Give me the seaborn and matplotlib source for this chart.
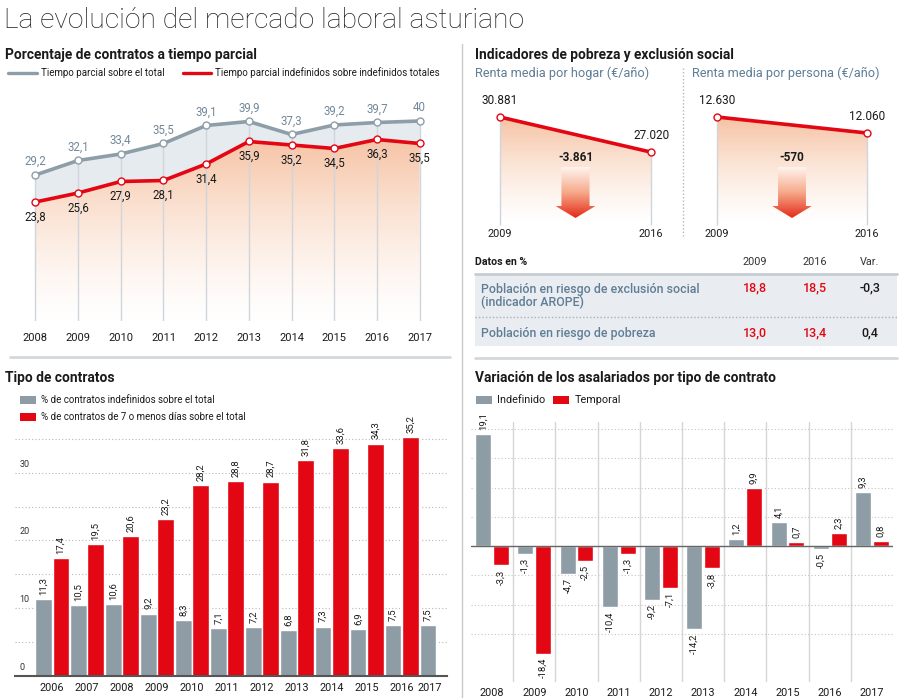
import numpy as np
import pandas as pd
import matplotlib
matplotlib.use('Agg')
import matplotlib.pyplot as plt
import seaborn as sns
from matplotlib.lines import Line2D
from matplotlib.patches import Rectangle, Polygon
from matplotlib.colors import LinearSegmentedColormap
from matplotlib import transforms

sns.set_theme(style='white')
plt.rcParams['font.family'] = ['Roboto', 'DejaVu Sans']

# ---- data ----
years_parcial = [2008, 2009, 2010, 2011, 2012, 2013, 2014, 2015, 2016, 2017]
parcial_total = [29.2, 32.1, 33.4, 35.5, 39.1, 39.9, 37.3, 39.2, 39.7, 40]
parcial_indef = [23.8, 25.6, 27.9, 28.1, 31.4, 35.9, 35.2, 34.5, 36.3, 35.5]

renta_years = ['2009', '2016']
renta_hogar = [30881, 27020]
renta_persona = [12630, 12060]

tabla_filas = ['Población en riesgo de exclusión social\n(indicador AROPE)',
               'Población en riesgo de pobreza']
tabla_2009 = [18.8, 13.0]
tabla_2016 = [18.5, 13.4]

years_tipo = ['2006', '2007', '2008', '2009', '2010', '2011', '2012',
              '2013', '2014', '2015', '2016', '2017']
pct_indefinidos = [11.3, 10.5, 10.6, 9.2, 8.3, 7.1, 7.2, 6.8, 7.3, 6.9, 7.5, 7.5]
pct_7dias = [17.4, 19.5, 20.6, 23.2, 28.2, 28.8, 28.7, 31.8, 33.6, 34.3, 35.2, np.nan]

years_var = ['2008', '2009', '2010', '2011', '2012', '2013', '2014', '2015', '2016', '2017']
var_indefinido = [19.1, -1.3, -4.7, -10.4, -9.2, -14.2, 1.2, 4.1, -0.5, 9.3]
var_temporal = [-3.3, -18.4, -2.5, -1.3, -7.1, -3.8, 9.9, 0.7, 2.3, 0.8]

# ---- style ----
RED = '#e30613'
GRAY_BAR = '#8e9ca6'
GRAY_LINE = '#8e9ea9'
GRAY_LABEL = '#73889a'
BLUE_TEXT = '#5f7d95'
DARK = '#1a1a1a'
TITLE_FS = 9.9
W, H = 900, 699

fig = plt.figure(figsize=(9, 6.99), dpi=100)
fig.patch.set_facecolor('white')


def rect(x0, y0, x1, y1):
    return [x0 / W, 1 - y1 / H, (x1 - x0) / W, (y1 - y0) / H]


def ftext(x, y, s, **kw):
    kw.setdefault('va', 'center')
    fig.text(x / W, 1 - y / H, s, **kw)


def fline(x0, y0, x1, y1, **kw):
    fig.add_artist(Line2D([x0 / W, x1 / W], [1 - y0 / H, 1 - y1 / H],
                          transform=fig.transFigure, **kw))


def frect(x0, y0, x1, y1, **kw):
    fig.add_artist(Rectangle((x0 / W, 1 - y1 / H), (x1 - x0) / W, (y1 - y0) / H,
                             transform=fig.transFigure, **kw))


def coma(v):
    if v == 40:
        return '40'
    return f'{v:.1f}'.replace('.', ',')


def miles(v):
    return f'{v:,}'.replace(',', '.')


peach = LinearSegmentedColormap.from_list('peach', ['#ffffff', '#fbe3d4', '#f6c2a3'])
arrow_cm = LinearSegmentedColormap.from_list('arr', ['#fff5ef', '#f6a88a', '#e42a17'])
grad = np.linspace(0, 1, 256).reshape(-1, 1) ** 1.3

# ---- main title & separators ----
ftext(4, 21, 'La evolución del mercado laboral asturiano', fontsize=20.3,
      fontweight='light', color='#222222')
fline(462, 44, 462, 697, color='#c8c8c8', lw=1)
fline(10, 357, 450, 357, color='#d4d8dc', lw=2)
fline(475, 358, 897, 358, color='#d4d8dc', lw=2)

# ======== Panel 1: tiempo parcial ========
ftext(5, 55, 'Porcentaje de contratos a tiempo parcial', fontsize=TITLE_FS,
      fontweight='bold', color=DARK)
fline(8, 73, 37, 73, color=GRAY_LINE, lw=2.4)
ftext(41, 73, 'Tiempo parcial sobre el total', fontsize=7, color=DARK)
fline(183, 73, 211, 73, color=RED, lw=2.4)
ftext(215, 73, 'Tiempo parcial indefinidos sobre indefinidos totales', fontsize=7, color=DARK)

ax1 = fig.add_axes(rect(14, 96, 441, 321))
ax1.fill_between(years_parcial, parcial_indef, parcial_total, color='#e6ebf0', lw=0, zorder=1)
under = ax1.fill_between(years_parcial, 0, parcial_indef, color='none', lw=0)
im = ax1.imshow(grad, extent=[2008, 2017, 0, 37], origin='lower', aspect='auto',
                cmap=peach, zorder=1)
im.set_clip_path(under.get_paths()[0], transform=ax1.transData)
ax1.vlines(years_parcial, 0, parcial_total, color='#cfd5da', lw=1, zorder=1.5)
sns.lineplot(x=years_parcial, y=parcial_total, color=GRAY_LINE, lw=2.6, marker='o',
             markersize=5, markerfacecolor='white', markeredgecolor=GRAY_LINE,
             markeredgewidth=1, ax=ax1, zorder=3)
sns.lineplot(x=years_parcial, y=parcial_indef, color=RED, lw=2.6, marker='o',
             markersize=5, markerfacecolor='white', markeredgecolor=RED,
             markeredgewidth=1, ax=ax1, zorder=3)
for l in ax1.lines:
    l.set_clip_on(False)
for x, a, b in zip(years_parcial, parcial_total, parcial_indef):
    ax1.annotate(coma(a), (x, a), xytext=(0, 5), textcoords='offset points',
                 ha='center', va='bottom', fontsize=8.3, color=GRAY_LABEL)
    ax1.annotate(coma(b), (x, b), xytext=(0, -6), textcoords='offset points',
                 ha='center', va='top', fontsize=8.3, color=DARK)
ax1.set_xlim(2007.5, 2017.5)
ax1.set_ylim(0, 45)
ax1.set_xticks(years_parcial)
ax1.set_xticklabels([str(y) for y in years_parcial])
ax1.tick_params(axis='x', length=0, pad=9, labelsize=8, labelcolor=DARK)
ax1.set_yticks([])
ax1.set_xlabel('')
ax1.set_ylabel('')
for s in ax1.spines.values():
    s.set_visible(False)
ax1.patch.set_alpha(0)

# ======== Panel 2: pobreza ========
ftext(475, 55, 'Indicadores de pobreza y exclusión social', fontsize=TITLE_FS,
      fontweight='bold', color=DARK)
ftext(475, 73, 'Renta media por hogar (€/año)', fontsize=9.2, color=BLUE_TEXT)
ftext(692, 73, 'Renta media por persona (€/año)', fontsize=9.2, color=BLUE_TEXT)
fline(683, 68, 683, 238, color='#b8b8b8', lw=1, ls=(0, (1, 1.5)))


def mini(box, vals, ylim):
    ax = fig.add_axes(rect(*box))
    xs = [0, 1]
    poly = ax.fill_between(xs, ylim[0], vals, color='none', lw=0)
    img = ax.imshow(grad, extent=[0, 1, ylim[0], max(vals)], origin='lower',
                    aspect='auto', cmap=peach, zorder=1)
    img.set_clip_path(poly.get_paths()[0], transform=ax.transData)
    ax.vlines(xs, ylim[0], vals, color='#cfd5da', lw=1, zorder=1.5, clip_on=False)
    sns.lineplot(x=xs, y=vals, color=RED, lw=2.6, marker='o', markersize=5,
                 markerfacecolor='white', markeredgecolor=RED, markeredgewidth=1,
                 ax=ax, zorder=3)
    for l in ax.lines:
        l.set_clip_on(False)
    for x, v in zip(xs, vals):
        ax.annotate(miles(v), (x, v), xytext=(0, 7), textcoords='offset points',
                    ha='center', va='bottom', fontsize=8.5, color=DARK)
        ax.text(x, -0.03, renta_years[x], transform=ax.get_xaxis_transform(),
                ha='center', va='top', fontsize=7.8, color=DARK)
    ax.text(0.5, 0.523, miles(vals[1] - vals[0]), transform=ax.transAxes,
            ha='center', va='center', fontsize=8.5, fontweight='bold', color=DARK)
    # flecha con degradado
    cx, sw, hw = 0.5, 0.093, 0.132
    top, base, tip = 0.446, 0.146, 0.054
    verts = [(cx - sw, top), (cx + sw, top), (cx + sw, base), (cx + hw, base),
             (cx, tip), (cx - hw, base), (cx - sw, base)]
    arrow = Polygon(verts, closed=True, transform=ax.transAxes, fc='none', ec='none')
    ax.add_patch(arrow)
    aim = ax.imshow(np.linspace(0, 1, 256).reshape(-1, 1), cmap=arrow_cm,
                    extent=[cx - hw, cx + hw, tip, top], transform=ax.transAxes,
                    aspect='auto', origin='upper', zorder=4)
    aim.set_clip_path(arrow)
    ax.set_xlim(0, 1)
    ax.set_ylim(*ylim)
    ax.axis('off')
    return ax


mini((500, 95, 651, 225), renta_hogar, (19000, 33308))
mini((717, 95, 867, 225), renta_persona, (8782, 13414))

# tabla
ftext(475, 262, 'Datos en %', fontsize=7.6, fontweight='bold', color=DARK)
for xc, s in zip([755, 815, 870], ['2009', '2016', 'Var.']):
    ftext(xc, 262, s, fontsize=7.8, color='#333333', ha='center')
frect(475, 274, 897, 346, color='#e9edf1', lw=0)
fline(475, 274, 897, 274, color='#c5ccd2', lw=2)
fline(475, 317, 897, 317, color='#a9b1b8', lw=1, ls=(0, (1, 1.5)))
row_y = [296, 333]
for i, name in enumerate(tabla_filas):
    ftext(481, row_y[i], name, fontsize=8.9, fontweight='medium', color=BLUE_TEXT,
          linespacing=1.05)
    vy = 288 if i == 0 else 333
    ftext(755, vy, coma(tabla_2009[i]), fontsize=9, color=RED, ha='center', fontweight='medium')
    ftext(815, vy, coma(tabla_2016[i]), fontsize=9, color=RED, ha='center', fontweight='medium')
    ftext(870, vy, coma(round(tabla_2016[i] - tabla_2009[i], 1)), fontsize=9,
          color=DARK, ha='center', fontweight='medium')

# ======== Panel 3: tipo de contratos ========
ftext(5, 378, 'Tipo de contratos', fontsize=TITLE_FS, fontweight='bold', color=DARK)
lab_indef = '% de contratos indefinidos sobre el total'
lab_7 = '% de contratos de 7 o menos días sobre el total'
frect(20, 396, 36, 404, color=GRAY_BAR, lw=0)
ftext(41, 400, lab_indef, fontsize=7, color=DARK)
frect(20, 413, 36, 421, color=RED, lw=0)
ftext(41, 417, lab_7, fontsize=7, color=DARK)

df3 = pd.DataFrame({
    'year': years_tipo * 2,
    'valor': pct_indefinidos + pct_7dias,
    'serie': [lab_indef] * len(years_tipo) + [lab_7] * len(years_tipo),
})
ax3 = fig.add_axes(rect(15, 430, 447, 676))
sns.barplot(data=df3, x='year', y='valor', hue='serie', palette=[GRAY_BAR, RED],
            width=0.98, gap=0.05, saturation=1, errorbar=None, legend=False,
            ax=ax3, zorder=2)
for c in ax3.containers:
    ax3.bar_label(c, labels=[coma(p.get_height()) for p in c], rotation=90,
                  padding=3, fontsize=6.8, color=DARK)
ax3.set_xlim(-1.06, 11.29)
ax3.set_ylim(0, 36.3)
ax3.set_yticks(np.arange(5, 40, 5))
ax3.set_yticklabels([])
ax3.yaxis.grid(True, color='#b9b9b9', ls=(0, (1, 2)), lw=0.8)
ax3.xaxis.grid(False)
for v in [0, 10, 20, 30]:
    ax3.text(0.01, v + 0.6, str(v), transform=ax3.get_yaxis_transform(),
             ha='left', va='bottom', fontsize=6.5, color='#333333')
ax3.set_xticks(np.arange(len(years_tipo)), years_tipo)
ax3.set_xticks(np.arange(len(years_tipo) - 1) + 0.5, minor=True)
ax3.tick_params(axis='x', which='major', length=0, pad=5, labelsize=7.8, labelcolor=DARK)
ax3.tick_params(axis='x', which='minor', length=5, width=0.8, color='#888888', direction='out')
ax3.tick_params(axis='y', length=0)
last = ax3.get_xticklabels()[-1]
last.set_transform(last.get_transform() + transforms.ScaledTranslation(-0.07, 0, fig.dpi_scale_trans))
ax3.set_xlabel('')
ax3.set_ylabel('')
for k, s in ax3.spines.items():
    s.set_visible(k == 'bottom')
ax3.spines['bottom'].set_color('#555555')
ax3.spines['bottom'].set_linewidth(1.5)
ax3.patch.set_alpha(0)

# ======== Panel 4: variación asalariados ========
ftext(475, 378, 'Variación de los asalariados por tipo de contrato', fontsize=TITLE_FS,
      fontweight='bold', color=DARK)
frect(476, 396, 492, 404, color=GRAY_BAR, lw=0)
ftext(497, 400, 'Indefinido', fontsize=7.8, color=DARK)
frect(553, 396, 569, 404, color=RED, lw=0)
ftext(575, 400, 'Temporal', fontsize=7.8, color=DARK)

df4 = pd.DataFrame({
    'year': years_var * 2,
    'valor': var_indefinido + var_temporal,
    'serie': ['Indefinido'] * len(years_var) + ['Temporal'] * len(years_var),
})
ax4 = fig.add_axes(rect(471, 422, 893, 682))
sns.barplot(data=df4, x='year', y='valor', hue='serie', palette=[GRAY_BAR, RED],
            width=0.84, gap=0.1, saturation=1, errorbar=None, legend=False,
            ax=ax4, zorder=2)
for c in ax4.containers:
    ax4.bar_label(c, labels=[coma(p.get_height()) for p in c], rotation=90,
                  padding=3, fontsize=6.8, color=DARK)
ax4.axhline(0, color='#666666', lw=1, zorder=3)
ax4.set_xlim(-0.5, 9.5)
ax4.set_ylim(-23.2, 21.2)
ax4.set_yticks(np.arange(-15, 25, 5))
ax4.set_yticklabels([])
ax4.yaxis.grid(True, color='#c4c4c4', ls=(0, (1, 2)), lw=0.8)
ax4.set_xticks(np.arange(len(years_var)), years_var)
ax4.set_xticks(np.arange(len(years_var) - 1) + 0.5, minor=True)
ax4.xaxis.grid(True, which='minor', color='#d6d6d6', lw=1)
ax4.xaxis.grid(False, which='major')
ax4.tick_params(axis='x', which='both', length=0, pad=4, labelsize=7.8, labelcolor=DARK)
ax4.tick_params(axis='y', length=0)
ax4.set_xlabel('')
ax4.set_ylabel('')
for s in ax4.spines.values():
    s.set_visible(False)
ax4.patch.set_alpha(0)

fig.savefig('out.png', dpi=100)
